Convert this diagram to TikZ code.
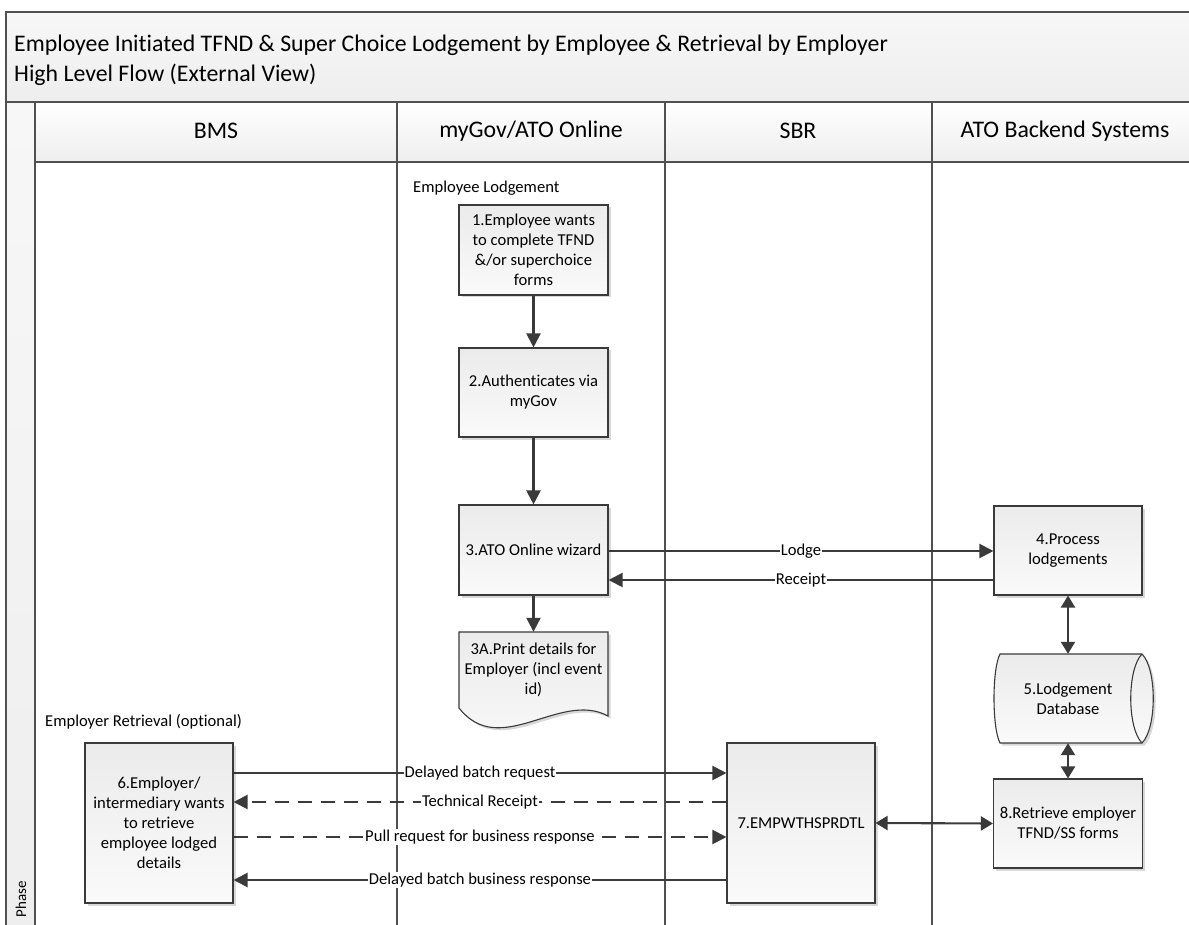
\documentclass[tikz,border=0pt]{standalone}
\usepackage{fontspec}
\setmainfont{Carlito}[Ligatures=NoCommon]
\usetikzlibrary{arrows.meta,shadows,calc}
\definecolor{ln}{HTML}{3A3A3A}
\definecolor{frm}{HTML}{505050}
\definecolor{bxtop}{HTML}{EBEBEB}
\definecolor{bxbot}{HTML}{FAFAFA}
\definecolor{hdtop}{HTML}{F7F7F7}
\definecolor{hdbot}{HTML}{EEEEEE}
\begin{document}
\begin{tikzpicture}[x=1pt,y=-1pt,
  txt/.style={font=\fontsize{16.6}{20}\selectfont},
  big/.style={font=\fontsize{23.8}{30}\selectfont},
  shad/.style={drop shadow={shadow xshift=2.5pt,shadow yshift=-2.5pt,fill=black!30,opacity=0.5}},
  box/.style={txt,draw=ln,line width=1.1pt,top color=bxtop,bottom color=bxbot,
    minimum width=149pt,minimum height=90pt,align=center,inner sep=2pt,shad},
  plain/.style={txt,align=center,inner sep=0pt},
  arr/.style={draw=ln,line width=2.1pt,-{Triangle[length=14pt,width=14pt]}},
  darr/.style={draw=ln,line width=2.1pt,{Triangle[length=12pt,width=14pt]}-{Triangle[length=12pt,width=14pt]}},
  dsh/.style={dash pattern=on 14pt off 9pt},
  lbl/.style={txt,fill=white,inner sep=1pt},
  lane/.style={draw=frm,line width=1.6pt}]
\clip (0,0) rectangle (1189,925);
\fill[white] (0,0) rectangle (1189,925);
% title band
\path[top color=hdtop,bottom color=hdbot,draw=frm,line width=1.6pt] (6,12) rectangle (1210,102);
\node[big,anchor=west,align=left,inner sep=0pt] (title) at (14,60)
  {Employee Initiated TFND \& Super Choice Lodgement by Employee \& Retrieval by Employer\\High Level Flow (External View)};
% phase strip
\path[top color=hdtop,bottom color=hdbot,draw=frm,line width=1.6pt] (6,102) rectangle (35,940);
\node[rotate=90,font=\fontsize{15}{16}\selectfont,inner sep=0pt] (phase) at (21,899) {Phase};
% header row
\path[top color=white,bottom color=hdbot,draw=frm,line width=1.6pt] (35,102) rectangle (1210,162);
\draw[lane] (397,102) -- (397,940);
\draw[lane] (665,102) -- (665,940);
\draw[lane] (932,102) -- (932,940);
\node[big] (h1) at (216,131) {BMS};
\node[big] (h2) at (531,131) {myGov/ATO Online};
\node[big] (h3) at (798,131) {SBR};
\node[big] (h4) at (1065,131) {ATO Backend Systems};
% section labels
\node[txt,anchor=west,inner sep=0pt] (sec1) at (413,188) {Employee Lodgement};
\node[txt,anchor=west,inner sep=0pt] (sec2) at (45,722) {Employer Retrieval (optional)};
% boxes
\node[box] (b1) at (533.5,250) {1.Employee wants\\to complete TFND\\\&/or superchoice\\forms};
\node[box,minimum height=89pt] (b2) at (533.5,392.5) {2.Authenticates via\\myGov};
\node[box] (b3) at (533.5,550) {3.ATO Online wizard};
\node[box,minimum width=148pt,minimum height=89pt] (b4) at (1068,550.5) {4.Process\\lodgements};
\node[box,minimum width=149pt,minimum height=89pt] (b8) at (1068,823.5) {8.Retrieve employer\\TFND/SS forms};
\node[box,minimum width=148pt,minimum height=160pt] (b6) at (159,823) {6.Employer/\\intermediary wants\\to retrieve\\employee lodged\\details};
\node[box,minimum width=148pt,minimum height=160pt] (b7) at (801,823) {7.EMPWTHSPRDTL};
% document shape 3A
\path[draw=ln,line width=1.1pt,top color=bxtop,bottom color=bxbot,shad]
  (459,632) -- (608,632) -- (608,716)
  .. controls (560,690) and (500,760) .. (459,708) -- cycle;
\node[plain,minimum width=149pt,minimum height=76pt] (b3a) at (533.5,670) {3A.Print details for\\Employer (incl event\\id)};
% cylinder 5
\path[draw=ln,line width=1.1pt,top color=bxtop,bottom color=bxbot,shad]
  (1000,654) -- (1142,654) .. controls (1157,669) and (1157,728) .. (1142,743)
  -- (1000,743) .. controls (992,728) and (992,669) .. (1000,654) -- cycle;
\draw[ln,line width=1.1pt] (1142,654) .. controls (1127,669) and (1127,728) .. (1142,743);
\node[plain,minimum width=148pt,minimum height=89pt] (cyl) at (1068,698.5) {5.Lodgement\\Database};
% connectors
\draw[arr] (b1.south) -- (b2.north);
\draw[arr] (b2.south) -- (b3.north);
\draw[arr] (b3.south) -- (b3a.north);
\draw[arr] ([yshift=-1pt]b3.east) -- node[lbl] {Lodge} ([yshift=-0.5pt]b4.west);
\draw[arr] ([yshift=-29.5pt]b4.west) -- node[lbl] {Receipt} ([yshift=-30pt]b3.east);
\draw[darr] (b4.south) -- (cyl.north);
\draw[darr] (cyl.south) -- (b8.north);
\draw[arr] ([yshift=50pt]b6.east) -- node[lbl] {Delayed batch request} ([yshift=50pt]b7.west);
\draw[arr,dsh] ([yshift=21pt]b7.west) -- node[lbl] {Technical Receipt} ([yshift=21pt]b6.east);
\draw[arr,dsh] ([yshift=-14pt]b6.east) -- node[lbl] {Pull request for business response} ([yshift=-14pt]b7.west);
\draw[arr] ([yshift=-57pt]b7.west) -- node[lbl] {Delayed batch business response} ([yshift=-57pt]b6.east);
\draw[darr] (b7.east) -- (b8.west);
\end{tikzpicture}
\end{document}
